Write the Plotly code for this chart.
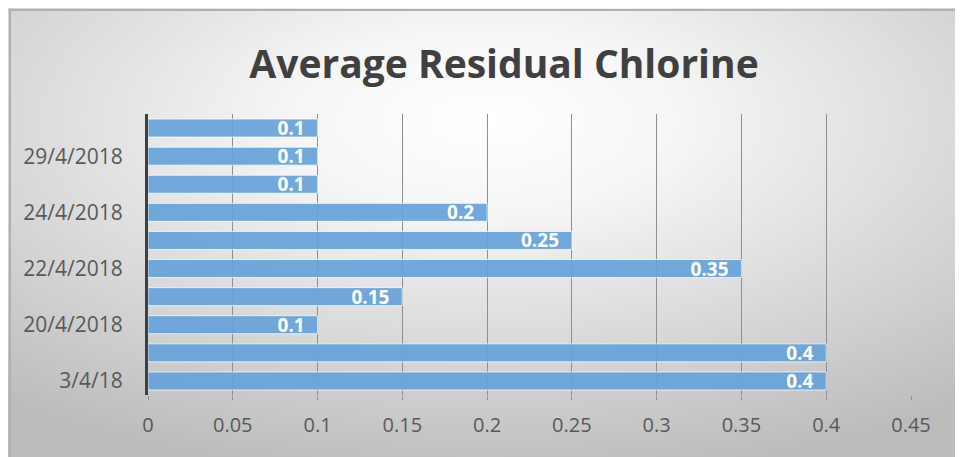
import base64
import plotly.graph_objects as go

# bottom to top, as in the chart
dates = ["3/4/18", "19/4/2018", "20/4/2018", "21/4/2018", "22/4/2018",
         "23/4/2018", "24/4/2018", "25/4/2018", "29/4/2018", "30/4/2018"]
chlorine = [0.4, 0.4, 0.1, 0.15, 0.35, 0.25, 0.2, 0.1, 0.1, 0.1]
shown_dates = dates[::2]
x_ticks = [0, 0.05, 0.1, 0.15, 0.2, 0.25, 0.3, 0.35, 0.4, 0.45]

W, H = 955, 449
L, R, T, B = 140, 52, 106, 62
PW, PH = W - L - R, H - T - B

svg = ('<svg xmlns="http://www.w3.org/2000/svg" width="963" height="457">'
       '<defs><radialGradient id="g" cx="50%" cy="25%" r="80%">'
       '<stop offset="0" stop-color="#ffffff"/><stop offset="0.25" stop-color="#f6f6f6"/>'
       '<stop offset="1" stop-color="#bcbcbc"/>'
       '</radialGradient></defs><rect width="963" height="457" fill="url(#g)"/></svg>')
bg = "data:image/svg+xml;base64," + base64.b64encode(svg.encode()).decode()

fig = go.Figure(go.Bar(
    x=chlorine, y=dates, orientation="h",
    marker=dict(color="rgb(103,163,218)", opacity=0.92,
                line=dict(color="rgba(255,255,255,0.75)", width=1)),
    width=0.64,
    text=[f"{v}\u00a0\u00a0" for v in chlorine], textposition="inside",
    insidetextanchor="end",
    textfont=dict(family="Open Sans", size=19, color="white", weight="bold"),
))

fig.update_layout(
    width=W, height=H,
    margin=dict(l=L, r=R, t=T, b=B),
    paper_bgcolor="white", plot_bgcolor="rgba(0,0,0,0)",
    title=dict(text="<b>Average Residual Chlorine</b>", x=(504 - 8) / W,
               xanchor="center", y=1 - 56 / H, yanchor="middle",
               font=dict(family="Open Sans", size=39, color="#404040")),
    images=[dict(source=bg, xref="paper", yref="paper",
                 x=-L / PW, y=1 + T / PH, sizex=W / PW, sizey=H / PH,
                 xanchor="left", yanchor="top", layer="below", sizing="stretch")],
    showlegend=False,
    uniformtext=dict(minsize=19, mode="show"),
)

fig.update_xaxes(range=[0, 0.45], tickvals=x_ticks, ticktext=[str(t) for t in x_ticks],
                 showgrid=True, gridcolor="#8f8f8f", gridwidth=1,
                 ticks="outside", ticklen=4, tickcolor="#8f8f8f",
                 zeroline=False, showline=False, ticklabelstandoff=8,
                 tickfont=dict(family="Open Sans", size=20, color="#595959"))
fig.update_yaxes(type="category", range=[-0.5, 9.5],
                 tickvals=shown_dates, ticktext=shown_dates,
                 showgrid=False, showline=True, linecolor="#404040", linewidth=3,
                 ticks="", ticklabelstandoff=18,
                 tickfont=dict(family="Open Sans", size=21, color="#595959"))

fig.add_shape(type="rect", xref="paper", yref="paper",
              x0=-(L - 2) / PW, x1=1 + (R + 6) / PW,
              y0=-(B + 6) / PH, y1=1 + (T - 2) / PH,
              line=dict(color="#b0b0b0", width=2))

fig.write_html("out.html")
